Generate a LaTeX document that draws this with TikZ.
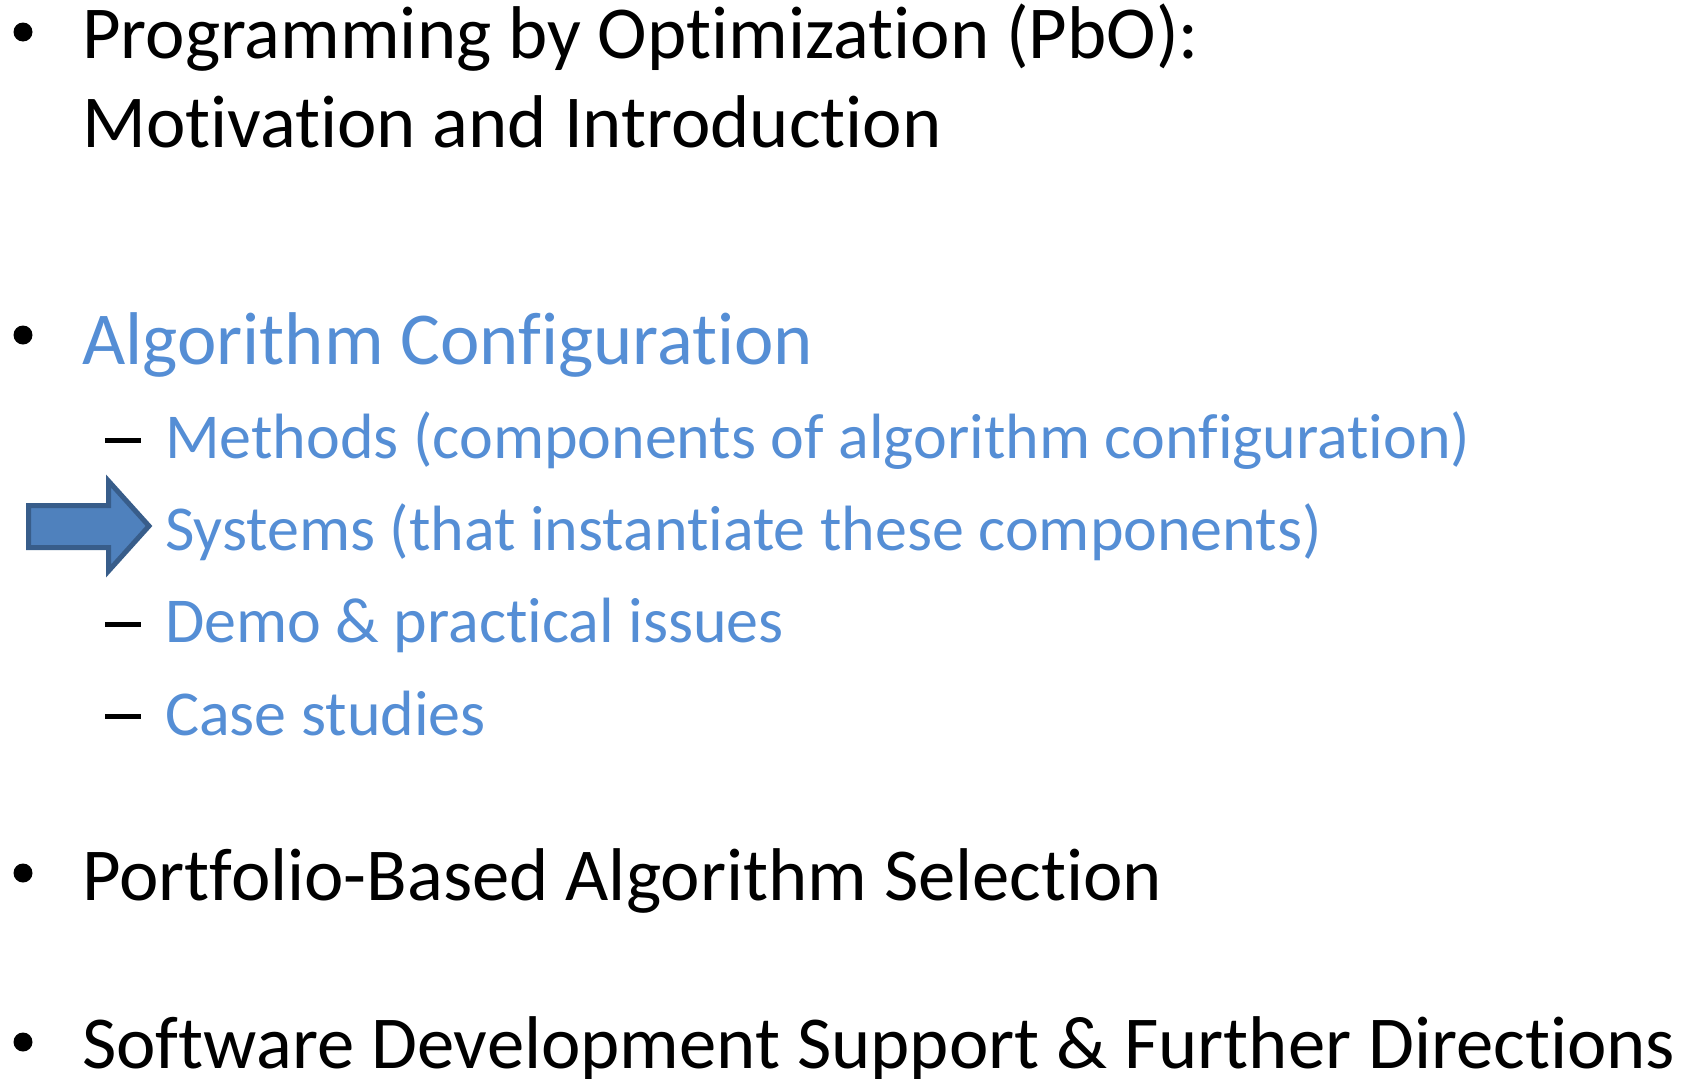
\documentclass[tikz,border=0pt]{standalone}
\usepackage{fontspec}
\setmainfont{Carlito}[Ligatures={NoCommon}]
\usepackage{tikz}
\usetikzlibrary{positioning}

\definecolor{itemblue}{HTML}{558ED5}
\definecolor{arrowfill}{HTML}{4F81BD}
\definecolor{arrowline}{HTML}{385D8A}

\tikzset{
  mainitem/.style={anchor=base west, inner sep=0pt, font=\fontsize{74.7}{90}\selectfont},
  subitem/.style={anchor=base west, inner sep=0pt, text=itemblue, font=\fontsize{64}{77}\selectfont},
  bulletdot/.style={circle, fill=black, inner sep=0pt, minimum size=19pt},
  subdash/.style={line width=5pt}
}

\begin{document}
\begin{tikzpicture}[x=1pt, y=-1pt]
  \useasboundingbox (0,0) rectangle (1687,1079);
  % Top level items
  \node[bulletdot] (b1) at (23,32) {};
  \node[mainitem] (pbo) at (82,58) {Programming by Optimization (PbO):};
  \node[mainitem] (intro) at (82,147) {Motivation and Introduction};
  \node[bulletdot] (b2) at (23,335) {};
  \node[mainitem, text=itemblue] (algconf) at (82,364) {Algorithm Configuration};
  % Sub items
  \node[subitem] (methods) at (165,458) {Methods (components of algorithm configuration)};
  \node[subitem] (systems) at (165,550) {Systems (that instantiate these components)};
  \node[subitem] (demo) at (165,642) {Demo \& practical issues};
  \node[subitem] (cases) at (165,735) {Case studies};
  \draw[subdash] (105,440) -- (141,440);
  \draw[subdash] (105,624) -- (141,624);
  \draw[subdash] (105,716) -- (141,716);
  % Current position marker
  \draw[line width=5pt, fill=arrowfill, draw=arrowline, line join=miter]
    (28.5,505.5) -- (108.5,505.5) -- (108.5,481) -- (149,526)
    -- (108.5,571) -- (108.5,547.5) -- (28.5,547.5) -- cycle;
  \node[bulletdot] (b3) at (23,873) {};
  \node[mainitem] (portfolio) at (82,900) {Portfolio-Based Algorithm Selection};
  \node[bulletdot] (b4) at (23,1042) {};
  \node[mainitem] (software) at (82,1068) {Software Development Support \& Further Directions};
\end{tikzpicture}
\end{document}
